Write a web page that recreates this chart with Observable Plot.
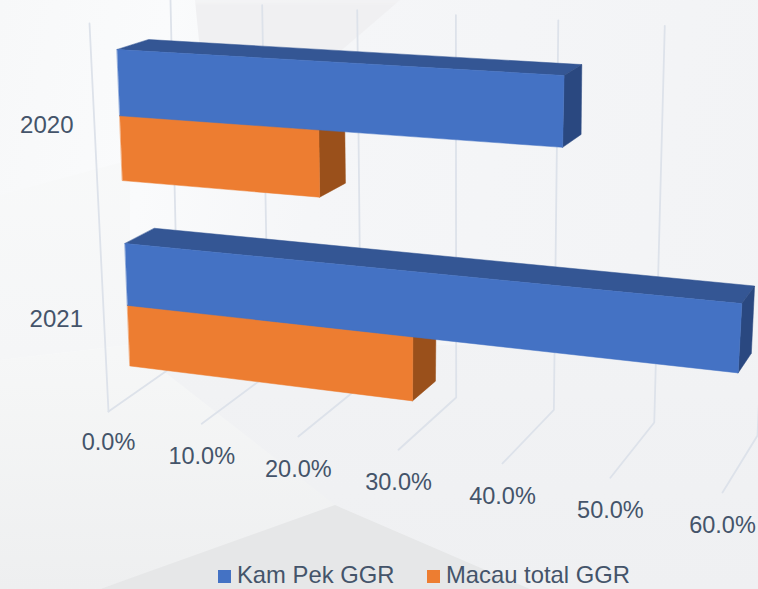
<!DOCTYPE html>
<html>
<head>
<meta charset="utf-8">
<script src="https://cdn.jsdelivr.net/npm/d3@7"></script>
<script src="https://cdn.jsdelivr.net/npm/@observablehq/plot@0.6"></script>
<style>
html,body{margin:0;padding:0;width:758px;height:589px;overflow:hidden;background:#f4f5f6;}
#wrap{position:relative;width:758px;height:589px;overflow:hidden;font-family:"Liberation Sans",Arial,sans-serif;}
.bg{position:absolute;inset:0;}
#chart{position:absolute;left:0;top:0;}
#legend{color:#44546A;font-size:23.8px;}
#legend span{position:absolute;top:561px;height:28px;line-height:27px;white-space:nowrap;}
#legend i{position:absolute;top:570px;width:13px;height:13px;display:block;}
</style>
</head>
<body>
<div id="wrap">
  <div class="bg" style="background:linear-gradient(100deg,#f7f8f9 0%,#fafbfc 20%,#f5f6f8 40%,#f2f3f5 100%)"></div>
  <div class="bg" style="background:#f0f0f2;filter:blur(3px);clip-path:polygon(195px 0,400px 0,330px 60px,205px 100px)"></div>
  <div class="bg" style="background:linear-gradient(180deg,#fafbfb 0,#f5f6f7 60%,#eff0f1 100%);clip-path:polygon(0 195px,130px 160px,130px 345px,0 360px)"></div>
  <div class="bg" style="background:linear-gradient(180deg,#f6f7f7 60%,#eeeff0 100%);clip-path:polygon(0 360px,130px 345px,345px 505px,100px 589px,0 589px)"></div>
  <div class="bg" style="background:linear-gradient(180deg,#f2f3f5 50%,#eff0f2 100%);clip-path:polygon(130px 345px,758px 345px,758px 589px,530px 589px,335px 505px)"></div>
  <div class="bg" style="background:#e6e7e8;clip-path:polygon(100px 589px,335px 505px,530px 589px)"></div>
  <div id="chart"></div>
  <div id="legend">
    <i style="left:218px;background:#4472C4"></i><span style="left:237px">Kam Pek GGR</span>
    <i style="left:427px;background:#ED7D31"></i><span style="left:446px">Macau total GGR</span>
  </div>
</div>
<script>
// Data
const categories = ["2020", "2021"];
const kamPek = [43.4, 59.9];
const macau = [20.3, 29.5];
const ticks = [0, 10, 20, 30, 40, 50, 60];
const seriesColors = {
  kam: {front: "#4472C4", top: "#345694", side: "#2A4880"},
  mac: {front: "#ED7D31", top: "#A85720", side: "#9A501B"}
};
// band layout in unit height of the 3D box (0 floor, 1 ceiling)
const bandCentre = [0.75, 0.25];
const barH = 0.167;
const depth = [0.325, 0.72];

// 3D box camera: corners of the value / depth / height box on the page
const cam = {
  fb0: [108, 411], fb1: [722, 492], ft0: [89, 23], ft1: [747, 57],
  bb0: [178, 362], bb1: [757, 435], bt0: [170, 0], bt1: [775, 31]
};
const vmax = 60, perspFront = 1.117, perspH = 1.07;
const warp = (t, k) => t / (t + k * (1 - t));
const mix = (a, b, k) => a + (b - a) * k;
function project(v, d, t) {
  const hh = warp(t, perspH);
  const perspBack = 1.085 + 0.035 * hh ** 4;
  const u = warp(v / vmax, mix(perspFront, perspBack, d));
  return [0, 1].map(i => {
    const fb = mix(cam.fb0[i], cam.fb1[i], u), ft = mix(cam.ft0[i], cam.ft1[i], u);
    const bb = mix(cam.bb0[i], cam.bb1[i], u), bt = mix(cam.bt0[i], cam.bt1[i], u);
    return mix(mix(fb, ft, hh), mix(bb, bt, hh), d);
  });
}

// faces
const faces = [];
function addFace(id, fill, pts) {
  pts.forEach(p => { const [x, y] = project(...p); faces.push({id, fill, x, y}); });
}
function addBar(id, v, h0, h1, col) {
  const [d0, d1] = depth;
  addFace(id + "t", col.top, [[0, d0, h1], [v, d0, h1], [v, d1, h1], [0, d1, h1]]);
  addFace(id + "s", col.side, [[v, d0, h0], [v, d1, h0], [v, d1, h1], [v, d0, h1]]);
  addFace(id + "f", col.front, [[0, d0, h0], [v, d0, h0], [v, d0, h1], [0, d0, h1]]);
}
categories.forEach((c, i) => {
  const m = bandCentre[i];
  addBar("m" + c, macau[i], m - barH, m, seriesColors.mac);
  addBar("k" + c, kamPek[i], m, m + barH, seriesColors.kam);
});

// gridlines
const grid = [];
ticks.forEach(t => {
  [[t, 0, 0], [t, 1, 0], [t, 1, 1]].forEach(p => {
    const [x, y] = project(...p);
    grid.push({id: t, x, y});
  });
});
[[0, 0, 1], [0, 0, 0]].forEach(p => {
  const [x, y] = project(...p);
  grid.push({id: "wall", x, y});
});

const tickLabels = ticks.map(t => {
  const [x, y] = project(t, 0, 0);
  return {text: t.toFixed(1) + "%", x, y: y + (t > 0 ? 33 : 31)};
});
const catLabels = categories.map((c, i) => {
  const [x, y] = project(0, 0, bandCentre[i]);
  return {text: c, x, y};
});

const chart = Plot.plot({
  width: 758,
  height: 589,
  margin: 0,
  style: {background: "transparent", fontFamily: "'Liberation Sans', Arial, sans-serif"},
  x: {domain: [0, 758], range: [0, 758], axis: null},
  y: {domain: [0, 589], range: [0, 589], axis: null},
  marks: [
    Plot.line(grid, {x: "x", y: "y", z: "id", stroke: "#DDE2EA", strokeWidth: 1.8, strokeLinejoin: "miter"}),
    Plot.line(faces, {x: "x", y: "y", z: "id", fill: "fill", stroke: "fill", strokeWidth: 0.5, curve: "linear-closed"}),
    Plot.text(tickLabels, {x: "x", y: "y", text: "text", fontSize: 23.5, fill: "#44546A", textAnchor: "middle"}),
    Plot.text(catLabels, {x: "x", y: "y", text: "text", dx: -21, fontSize: 24, fill: "#44546A", textAnchor: "end"})
  ]
});
document.getElementById("chart").appendChild(chart);
</script>
</body>
</html>
